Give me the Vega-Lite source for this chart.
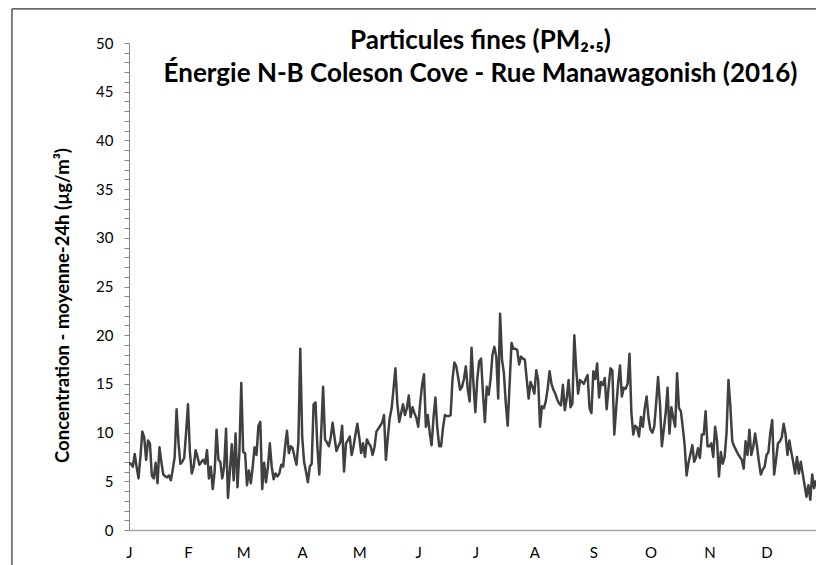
{
  "$schema": "https://vega.github.io/schema/vega-lite/v6.json",
  "width": 687,
  "height": 487,
  "autosize": {"type": "none"},
  "padding": {"left": 129, "top": 43, "right": 0, "bottom": 35},
  "background": "#ffffff",
  "config": {"view": {"stroke": null}, "font": "Lato"},
  "title": {
    "text": ["Particules fines (PM₂.₅)", "Énergie N-B Coleson Cove - Rue Manawagonish (2016)"],
    "anchor": "middle",
    "frame": "group",
    "orient": "top",
    "offset": -79,
    "dx": 8,
    "font": "Lato",
    "fontSize": 26,
    "fontWeight": "bold",
    "color": "#000000",
    "lineHeight": 33
  },
  "resolve": {"axis": {"x": "independent", "y": "independent"}},
  "layer": [
    {
      "data": {"values": [{}]},
      "mark": {"type": "rect", "fill": null, "stroke": "#000000", "strokeWidth": 1, "clip": false},
      "encoding": {
        "x": {"datum": -61.5, "type": "quantitative", "scale": {"domain": [0, 361], "nice": false, "zero": false}, "axis": null},
        "x2": {"datum": 420},
        "y": {"datum": 53.5, "type": "quantitative", "axis": null},
        "y2": {"datum": -10}
      }
    },
    {
      "data": {"values": [
        {"jour":0,"pm":6.9},{"jour":1,"pm":6.8},{"jour":2,"pm":6.5},{"jour":3,"pm":7.8},{"jour":4,"pm":6.5},{"jour":5,"pm":5.3},{"jour":6,"pm":7.5},{"jour":7,"pm":10.1},{"jour":8,"pm":9.5},{"jour":9,"pm":7.2},
        {"jour":10,"pm":9.2},{"jour":11,"pm":8.9},{"jour":12,"pm":5.6},{"jour":13,"pm":5.3},{"jour":14,"pm":6.9},{"jour":15,"pm":4.8},{"jour":16,"pm":8.5},{"jour":17,"pm":7.0},{"jour":18,"pm":5.7},{"jour":19,"pm":5.5},
        {"jour":20,"pm":5.4},{"jour":21,"pm":5.6},{"jour":22,"pm":5.1},{"jour":23,"pm":6.2},{"jour":24,"pm":7.5},{"jour":25,"pm":12.4},{"jour":26,"pm":9.0},{"jour":27,"pm":6.8},{"jour":28,"pm":7.0},{"jour":29,"pm":7.4},
        {"jour":30,"pm":10.0},{"jour":31,"pm":12.9},{"jour":32,"pm":8.0},{"jour":33,"pm":5.8},{"jour":34,"pm":6.5},{"jour":35,"pm":8.2},{"jour":36,"pm":7.5},{"jour":37,"pm":6.7},{"jour":38,"pm":7.0},{"jour":39,"pm":7.2},
        {"jour":40,"pm":6.8},{"jour":41,"pm":8.2},{"jour":42,"pm":5.3},{"jour":43,"pm":6.5},{"jour":44,"pm":4.2},{"jour":45,"pm":6.0},{"jour":46,"pm":10.3},{"jour":47,"pm":7.2},{"jour":48,"pm":7.0},{"jour":49,"pm":5.3},
        {"jour":50,"pm":6.5},{"jour":51,"pm":10.4},{"jour":52,"pm":3.3},{"jour":53,"pm":6.0},{"jour":54,"pm":8.8},{"jour":55,"pm":5.1},{"jour":56,"pm":9.9},{"jour":57,"pm":4.4},{"jour":58,"pm":8.0},{"jour":59,"pm":15.1},
        {"jour":60,"pm":8.0},{"jour":61,"pm":7.9},{"jour":62,"pm":4.6},{"jour":63,"pm":6.1},{"jour":64,"pm":4.8},{"jour":65,"pm":6.5},{"jour":66,"pm":8.5},{"jour":67,"pm":7.7},{"jour":68,"pm":10.7},{"jour":69,"pm":11.1},
        {"jour":70,"pm":4.2},{"jour":71,"pm":6.9},{"jour":72,"pm":4.9},{"jour":73,"pm":6.5},{"jour":74,"pm":8.9},{"jour":75,"pm":6.5},{"jour":76,"pm":5.2},{"jour":77,"pm":5.8},{"jour":78,"pm":5.5},{"jour":79,"pm":5.8},
        {"jour":80,"pm":6.7},{"jour":81,"pm":6.5},{"jour":82,"pm":8.5},{"jour":83,"pm":10.2},{"jour":84,"pm":7.9},{"jour":85,"pm":8.6},{"jour":86,"pm":8.4},{"jour":87,"pm":7.5},{"jour":88,"pm":6.7},{"jour":89,"pm":9.0},
        {"jour":90,"pm":18.6},{"jour":91,"pm":9.6},{"jour":92,"pm":7.0},{"jour":93,"pm":6.0},{"jour":94,"pm":4.9},{"jour":95,"pm":6.5},{"jour":96,"pm":6.8},{"jour":97,"pm":12.9},{"jour":98,"pm":13.1},{"jour":99,"pm":8.5},
        {"jour":100,"pm":5.7},{"jour":101,"pm":10.0},{"jour":102,"pm":14.7},{"jour":103,"pm":9.3},{"jour":104,"pm":9.0},{"jour":105,"pm":8.6},{"jour":106,"pm":9.5},{"jour":107,"pm":11.0},{"jour":108,"pm":9.5},{"jour":109,"pm":8.1},
        {"jour":110,"pm":8.6},{"jour":111,"pm":9.0},{"jour":112,"pm":10.7},{"jour":113,"pm":6.0},{"jour":114,"pm":8.9},{"jour":115,"pm":9.2},{"jour":116,"pm":9.6},{"jour":117,"pm":7.7},{"jour":118,"pm":8.6},{"jour":119,"pm":9.8},
        {"jour":120,"pm":10.9},{"jour":121,"pm":9.5},{"jour":122,"pm":7.9},{"jour":123,"pm":8.9},{"jour":124,"pm":7.5},{"jour":125,"pm":9.3},{"jour":126,"pm":8.9},{"jour":127,"pm":8.6},{"jour":128,"pm":7.7},{"jour":129,"pm":8.5},
        {"jour":130,"pm":10.1},{"jour":131,"pm":10.4},{"jour":132,"pm":10.7},{"jour":133,"pm":11.0},{"jour":134,"pm":11.8},{"jour":135,"pm":7.2},{"jour":136,"pm":9.5},{"jour":137,"pm":11.5},{"jour":138,"pm":12.5},{"jour":139,"pm":14.5},
        {"jour":140,"pm":16.6},{"jour":141,"pm":13.0},{"jour":142,"pm":11.1},{"jour":143,"pm":12.0},{"jour":144,"pm":12.9},{"jour":145,"pm":11.8},{"jour":146,"pm":12.5},{"jour":147,"pm":13.8},{"jour":148,"pm":11.6},{"jour":149,"pm":12.6},
        {"jour":150,"pm":12.0},{"jour":151,"pm":11.5},{"jour":152,"pm":10.6},{"jour":153,"pm":13.0},{"jour":154,"pm":14.9},{"jour":155,"pm":16.0},{"jour":156,"pm":10.6},{"jour":157,"pm":11.8},{"jour":158,"pm":10.0},{"jour":159,"pm":8.7},
        {"jour":160,"pm":11.5},{"jour":161,"pm":13.6},{"jour":162,"pm":10.5},{"jour":163,"pm":8.6},{"jour":164,"pm":8.6},{"jour":165,"pm":10.5},{"jour":166,"pm":11.8},{"jour":167,"pm":11.7},{"jour":168,"pm":11.7},{"jour":169,"pm":11.8},
        {"jour":170,"pm":15.5},{"jour":171,"pm":17.2},{"jour":172,"pm":16.8},{"jour":173,"pm":15.6},{"jour":174,"pm":14.4},{"jour":175,"pm":14.7},{"jour":176,"pm":15.5},{"jour":177,"pm":16.8},{"jour":178,"pm":14.5},{"jour":179,"pm":13.2},
        {"jour":180,"pm":18.7},{"jour":181,"pm":15.0},{"jour":182,"pm":12.1},{"jour":183,"pm":15.5},{"jour":184,"pm":17.3},{"jour":185,"pm":17.6},{"jour":186,"pm":14.0},{"jour":187,"pm":11.1},{"jour":188,"pm":14.7},{"jour":189,"pm":13.9},
        {"jour":190,"pm":15.5},{"jour":191,"pm":18.0},{"jour":192,"pm":18.8},{"jour":193,"pm":17.8},{"jour":194,"pm":13.5},{"jour":195,"pm":22.2},{"jour":196,"pm":17.5},{"jour":197,"pm":16.1},{"jour":198,"pm":13.0},{"jour":199,"pm":10.7},
        {"jour":200,"pm":15.0},{"jour":201,"pm":19.2},{"jour":202,"pm":18.6},{"jour":203,"pm":18.6},{"jour":204,"pm":18.5},{"jour":205,"pm":17.0},{"jour":206,"pm":17.8},{"jour":207,"pm":17.6},{"jour":208,"pm":17.5},{"jour":209,"pm":15.5},
        {"jour":210,"pm":13.5},{"jour":211,"pm":15.2},{"jour":212,"pm":14.7},{"jour":213,"pm":14.0},{"jour":214,"pm":16.4},{"jour":215,"pm":15.4},{"jour":216,"pm":10.6},{"jour":217,"pm":12.7},{"jour":218,"pm":12.5},{"jour":219,"pm":13.2},
        {"jour":220,"pm":14.5},{"jour":221,"pm":16.3},{"jour":222,"pm":15.0},{"jour":223,"pm":14.4},{"jour":224,"pm":14.0},{"jour":225,"pm":13.4},{"jour":226,"pm":13.0},{"jour":227,"pm":12.8},{"jour":228,"pm":14.9},{"jour":229,"pm":12.3},
        {"jour":230,"pm":13.5},{"jour":231,"pm":15.4},{"jour":232,"pm":12.6},{"jour":233,"pm":13.0},{"jour":234,"pm":20.0},{"jour":235,"pm":16.5},{"jour":236,"pm":14.0},{"jour":237,"pm":15.4},{"jour":238,"pm":15.2},{"jour":239,"pm":15.0},
        {"jour":240,"pm":15.5},{"jour":241,"pm":15.9},{"jour":242,"pm":12.5},{"jour":243,"pm":12.0},{"jour":244,"pm":16.3},{"jour":245,"pm":15.5},{"jour":246,"pm":17.1},{"jour":247,"pm":13.6},{"jour":248,"pm":15.2},{"jour":249,"pm":14.9},
        {"jour":250,"pm":15.6},{"jour":251,"pm":12.4},{"jour":252,"pm":14.6},{"jour":253,"pm":16.6},{"jour":254,"pm":16.4},{"jour":255,"pm":9.8},{"jour":256,"pm":12.5},{"jour":257,"pm":15.0},{"jour":258,"pm":16.9},{"jour":259,"pm":13.7},
        {"jour":260,"pm":14.6},{"jour":261,"pm":14.5},{"jour":262,"pm":15.0},{"jour":263,"pm":18.1},{"jour":264,"pm":12.0},{"jour":265,"pm":9.8},{"jour":266,"pm":10.7},{"jour":267,"pm":10.5},{"jour":268,"pm":9.6},{"jour":269,"pm":11.6},
        {"jour":270,"pm":10.6},{"jour":271,"pm":12.5},{"jour":272,"pm":13.7},{"jour":273,"pm":11.5},{"jour":274,"pm":10.3},{"jour":275,"pm":10.0},{"jour":276,"pm":10.6},{"jour":277,"pm":13.0},{"jour":278,"pm":15.7},{"jour":279,"pm":13.0},
        {"jour":280,"pm":8.6},{"jour":281,"pm":10.3},{"jour":282,"pm":12.0},{"jour":283,"pm":14.6},{"jour":284,"pm":9.9},{"jour":285,"pm":12.6},{"jour":286,"pm":11.5},{"jour":287,"pm":10.6},{"jour":288,"pm":16.1},{"jour":289,"pm":12.5},
        {"jour":290,"pm":12.2},{"jour":291,"pm":10.5},{"jour":292,"pm":8.7},{"jour":293,"pm":5.6},{"jour":294,"pm":6.9},{"jour":295,"pm":7.8},{"jour":296,"pm":8.7},{"jour":297,"pm":7.0},{"jour":298,"pm":7.5},{"jour":299,"pm":8.4},
        {"jour":300,"pm":7.4},{"jour":301,"pm":9.8},{"jour":302,"pm":9.8},{"jour":303,"pm":12.2},{"jour":304,"pm":8.6},{"jour":305,"pm":8.6},{"jour":306,"pm":8.9},{"jour":307,"pm":7.5},{"jour":308,"pm":10.6},{"jour":309,"pm":9.2},
        {"jour":310,"pm":5.5},{"jour":311,"pm":8.0},{"jour":312,"pm":6.8},{"jour":313,"pm":7.5},{"jour":314,"pm":10.0},{"jour":315,"pm":15.4},{"jour":316,"pm":12.7},{"jour":317,"pm":9.1},{"jour":318,"pm":8.6},{"jour":319,"pm":8.2},
        {"jour":320,"pm":7.8},{"jour":321,"pm":7.5},{"jour":322,"pm":7.2},{"jour":323,"pm":6.3},{"jour":324,"pm":9.1},{"jour":325,"pm":7.7},{"jour":326,"pm":10.3},{"jour":327,"pm":7.7},{"jour":328,"pm":8.5},{"jour":329,"pm":9.9},
        {"jour":330,"pm":8.6},{"jour":331,"pm":7.0},{"jour":332,"pm":5.7},{"jour":333,"pm":6.2},{"jour":334,"pm":6.5},{"jour":335,"pm":7.7},{"jour":336,"pm":8.0},{"jour":337,"pm":10.0},{"jour":338,"pm":11.3},{"jour":339,"pm":5.7},
        {"jour":340,"pm":7.2},{"jour":341,"pm":8.9},{"jour":342,"pm":9.1},{"jour":343,"pm":9.5},{"jour":344,"pm":10.9},{"jour":345,"pm":9.8},{"jour":346,"pm":7.7},{"jour":347,"pm":9.2},{"jour":348,"pm":8.0},{"jour":349,"pm":7.0},
        {"jour":350,"pm":5.8},{"jour":351,"pm":7.5},{"jour":352,"pm":5.8},{"jour":353,"pm":7.0},{"jour":354,"pm":5.8},{"jour":355,"pm":4.6},{"jour":356,"pm":3.4},{"jour":357,"pm":4.6},{"jour":358,"pm":3.1},{"jour":359,"pm":5.7},
        {"jour":360,"pm":4.3},{"jour":361,"pm":5.1}
      ]},
      "mark": {"type": "line", "color": "#404040", "strokeWidth": 2.5, "strokeJoin": "round", "clip": true},
      "encoding": {
        "x": {
          "field": "jour",
          "type": "quantitative",
          "scale": {"domain": [0, 361], "nice": false, "zero": false},
          "axis": {
            "orient": "bottom",
            "title": null,
            "values": [0, 31, 60, 91, 121, 152, 182, 213, 244, 274, 305, 335],
            "labelExpr": "['J','F','M','A','M','J','J','A','S','O','N','D'][indexof([0,31,60,91,121,152,182,213,244,274,305,335], datum.value)]",
            "grid": false,
            "ticks": false,
            "domainColor": "#a6a6a6",
            "domainWidth": 1.5,
            "labelFont": "Lato",
            "labelFontSize": 15,
            "labelColor": "#000000",
            "labelPadding": 15,
            "labelFlush": false,
            "labelOverlap": false
          }
        },
        "y": {
          "field": "pm",
          "type": "quantitative",
          "scale": {"domain": [0, 50], "nice": false, "zero": true},
          "axis": {
            "orient": "left",
            "title": "Concentration - moyenne-24h (µg/m³)",
            "titleFont": "Lato",
            "titleFontSize": 18.5,
            "titleFontWeight": "bold",
            "titleColor": "#000000",
            "titlePadding": 23,
            "titleY": 262,
            "values": [0,1,2,3,4,5,6,7,8,9,10,11,12,13,14,15,16,17,18,19,20,21,22,23,24,25,26,27,28,29,30,31,32,33,34,35,36,37,38,39,40,41,42,43,44,45,46,47,48,49,50],
            "labelExpr": "datum.value % 5 === 0 ? datum.label : ''",
            "labelOverlap": false,
            "labelFont": "Lato",
            "labelFontSize": 15,
            "labelColor": "#000000",
            "labelPadding": 11,
            "grid": false,
            "tickSize": 5,
            "tickColor": "#868686",
            "domainColor": "#868686",
            "domainWidth": 1
          }
        }
      }
    }
  ]
}
